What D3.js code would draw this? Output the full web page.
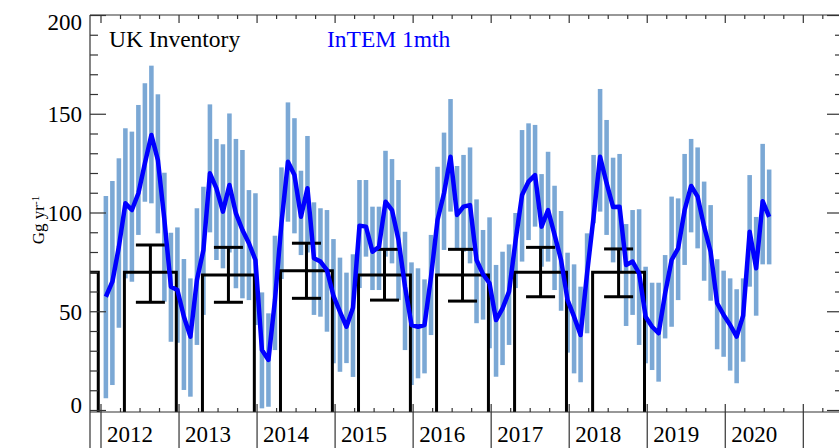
<!DOCTYPE html>
<html>
<head>
<meta charset="utf-8">
<script src="https://cdn.jsdelivr.net/npm/d3@7"></script>
<style>
body { margin: 0; background: #fff; }
text { font-family: "Liberation Serif", "Times New Roman", serif; }
</style>
</head>
<body>
<script>
// InTEM monthly estimates, Jan 2012 .. Jul 2020 (Gg/yr)
var startYear = 2012;
var intemMean = [
	57.6, 65.2, 82.9, 104.9, 101.5, 110, 125.2, 139.5, 126.8, 96.5, 62.7, 61,
	47.5, 37.4, 66.1, 81.3, 120.1, 112.5, 100.7, 114.2, 99.8, 91.4, 84.7, 76.2,
	30.6, 25.6, 55.9, 94.8, 126, 119.2, 98.1, 112.5, 77.1, 75.4, 71.1, 58,
	50, 42.4, 52, 93.6, 93.1, 80.4, 82.9, 105.7, 101.5, 86.3, 62.7, 43.3,
	42.4, 43.3, 67.7, 96.5, 110, 128.5, 99, 103.2, 104, 76.2, 69, 64.4,
	45.8, 51.7, 60.2, 86, 109.1, 115.9, 119.2, 93.1, 101.5, 88.9, 76.2, 55.9,
	47.5, 38.2, 69.5, 98.1, 128.5, 115.1, 103, 103.2, 73.7, 75.4, 69.5, 47.5,
	42.4, 39.1, 59.3, 76.2, 82.1, 101.5, 113.7, 108.3, 93.1, 80.4, 54.3, 48.4,
	43.3, 37.4, 48, 90.5, 72, 106, 98
];
var intemLow = [
	6.2, 12.9, 41.9, 66.9, 65.2, 88.9, 105.7, 104.9, 89.7, 55.1, 34.8, 34.3,
	10.4, 7, 33.2, 48.4, 90.2, 76.2, 72, 80, 61.9, 56.8, 55.9, 43.3,
	1.1, 1.9, 30.6, 66.6, 95.6, 89.7, 78.7, 80, 48.4, 47.5, 39.9, 23.9,
	19.6, 24, 17, 62, 77.9, 61, 61, 77.9, 74.5, 55.9, 30.6, 12.9,
	16.3, 18.8, 38.2, 68.6, 81.3, 100.7, 82.1, 80.4, 74.5, 44.2, 46, 31.5,
	17.1, 23, 33.2, 62, 75.4, 86.3, 93.1, 72.8, 75.4, 61, 50.5, 29.3,
	18.8, 14.3, 39.1, 94.8, 100.7, 88.9, 75, 70, 42.8, 48.4, 33.2, 23.9,
	20.5, 14.6, 36.5, 42.4, 55.9, 73.7, 90.2, 82.1, 65.7, 55.6, 31, 27.2,
	20.2, 13.8, 24.7, 62.7, 48, 74, 74
];
var intemHigh = [
	108.6, 116.2, 127.7, 142.9, 141.2, 154.7, 165.7, 174.6, 160.1, 120.4, 90, 92.7,
	76.7, 66.9, 102.4, 113.3, 155, 137.5, 134.8, 150.4, 137.5, 131.9, 111.6, 110,
	59.8, 49.2, 88.5, 123.1, 156, 148, 121.4, 139, 105.4, 102.4, 101.5, 86.8,
	77.4, 69.8, 79.1, 116.7, 116.7, 103.2, 103.2, 131.5, 127.3, 116.7, 90.5, 75,
	72, 66.4, 88.9, 123.4, 140.7, 157.7, 123.8, 129.4, 133.2, 106.9, 91.4, 97.8,
	73.7, 80.4, 84.1, 100, 142, 145.4, 144.6, 119.7, 131, 113.8, 101, 79.9,
	74, 62.7, 89.7, 129.4, 162.8, 147.1, 128, 129.9, 94.4, 101.5, 101.9, 72.8,
	64.7, 64.7, 78.7, 108.3, 107.4, 129.9, 137.5, 133.2, 115.9, 104, 76.6, 70.8,
	66.9, 61.4, 66.9, 119.2, 98, 135, 122
];

// UK inventory, annual value and uncertainty range
var invYears = [2011, 2012, 2013, 2014, 2015, 2016, 2017, 2018];
var invValue = [70, 70, 68.6, 70.8, 68.6, 68.6, 70, 70];
var invLow   = [55, 54.8, 54.8, 56.8, 55.9, 55.4, 57.6, 57.6];
var invHigh  = [84, 83.8, 82.6, 84.7, 81.6, 81.6, 82.6, 81.8];

var yTicks = [0, 50, 100, 150, 200];
var yearLabels = ["2012", "2013", "2014", "2015", "2016", "2017", "2018", "2019", "2020"];

var width = 839, height = 448;
var pLeft = 90, pRight = 843, pTop = 15, pBottom = 412;

var x = d3.scaleLinear().domain([2012, 2021]).range([101, 803.3]);
var y = d3.scaleLinear().domain([0, 200]).range([410.5, 15.5]);

var svg = d3.select("body").append("svg")
	.attr("width", width)
	.attr("height", height);

svg.append("defs").append("clipPath")
	.attr("id", "plotclip")
	.append("rect")
	.attr("x", pLeft).attr("y", pTop)
	.attr("width", pRight - pLeft).attr("height", pBottom - pTop);

var plot = svg.append("g").attr("clip-path", "url(#plotclip)");

// month positions
var months = intemMean.map(function(v, i) {
	return { t: startYear + (i + 0.75) / 12, mean: v, lo: intemLow[i], hi: intemHigh[i] };
});
var barW = (x(2013) - x(2012)) / 12 * 0.7;

// uncertainty bars
plot.selectAll("rect.unc")
	.data(months)
	.enter()
	.append("rect")
	.attr("class", "unc")
	.attr("x", function(d) { return x(d.t) - barW / 2; })
	.attr("width", barW)
	.attr("y", function(d) { return y(d.hi); })
	.attr("height", function(d) { return y(d.lo) - y(d.hi); })
	.style("fill", "#7ba8d5");

// inventory boxes
var inv = invYears.map(function(yr, i) {
	return { yr: yr, v: invValue[i], lo: invLow[i], hi: invHigh[i] };
});

plot.selectAll("path.inv")
	.data(inv)
	.enter()
	.append("path")
	.attr("class", "inv")
	.attr("d", function(d) {
		var x0 = x(d.yr + 0.3), x1 = x(d.yr + 0.965);
		return "M" + x0 + "," + pBottom + "V" + y(d.v) + "H" + x1 + "V" + pBottom;
	})
	.style("fill", "none")
	.style("stroke", "#000")
	.style("stroke-width", 3);

// inventory error bars
var capHalf = 0.186;
var eb = plot.selectAll("g.eb")
	.data(inv)
	.enter()
	.append("g")
	.attr("class", "eb")
	.style("stroke", "#000")
	.style("stroke-width", 3);

eb.append("line")
	.attr("x1", function(d) { return x(d.yr + 0.633); })
	.attr("x2", function(d) { return x(d.yr + 0.633); })
	.attr("y1", function(d) { return y(d.lo); })
	.attr("y2", function(d) { return y(d.hi); });
eb.append("line")
	.attr("x1", function(d) { return x(d.yr + 0.633 - capHalf); })
	.attr("x2", function(d) { return x(d.yr + 0.633 + capHalf); })
	.attr("y1", function(d) { return y(d.lo); })
	.attr("y2", function(d) { return y(d.lo); });
eb.append("line")
	.attr("x1", function(d) { return x(d.yr + 0.633 - capHalf); })
	.attr("x2", function(d) { return x(d.yr + 0.633 + capHalf); })
	.attr("y1", function(d) { return y(d.hi); })
	.attr("y2", function(d) { return y(d.hi); });

// InTEM line
var line = d3.line()
	.x(function(d) { return x(d.t); })
	.y(function(d) { return y(d.mean); });

plot.append("path")
	.datum(months)
	.attr("d", line)
	.style("fill", "none")
	.style("stroke", "#0000ff")
	.style("stroke-width", 4.5)
	.style("stroke-linejoin", "round");

// frame
var axisColor = "#333";
var frame = svg.append("g").style("stroke", axisColor).style("stroke-width", 1.2);
frame.append("line").attr("x1", pLeft).attr("x2", pLeft).attr("y1", pTop).attr("y2", height);
frame.append("line").attr("x1", pLeft).attr("x2", pRight).attr("y1", pTop).attr("y2", pTop);
frame.append("line").attr("x1", pLeft).attr("x2", pRight).attr("y1", pBottom).attr("y2", pBottom);
frame.append("line").attr("x1", pRight).attr("x2", pRight).attr("y1", pTop).attr("y2", pBottom);

// y ticks, left and right
var yt = d3.range(0, 201, 10);
frame.selectAll("line.yl")
	.data(yt)
	.enter()
	.append("line")
	.attr("x1", pLeft)
	.attr("x2", function(d) { return pLeft + (d % 50 === 0 ? 16 : 8); })
	.attr("y1", function(d) { return y(d); })
	.attr("y2", function(d) { return y(d); });
frame.selectAll("line.yr")
	.data(yt)
	.enter()
	.append("line")
	.attr("x1", pRight)
	.attr("x2", function(d) { return pRight - (d % 50 === 0 ? 16 : 8); })
	.attr("y1", function(d) { return y(d); })
	.attr("y2", function(d) { return y(d); });

// x ticks every quarter, top and bottom
var xt = d3.range(2012, 2021.6, 0.25).filter(function(t) { return x(t) < pRight; });
frame.selectAll("line.xt")
	.data(xt)
	.enter()
	.append("line")
	.attr("x1", function(d) { return x(d); })
	.attr("x2", function(d) { return x(d); })
	.attr("y1", pTop)
	.attr("y2", function(d) { return pTop + (d % 1 === 0 ? 8 : 4); });
frame.selectAll("line.xb")
	.data(xt)
	.enter()
	.append("line")
	.attr("x1", function(d) { return x(d); })
	.attr("x2", function(d) { return x(d); })
	.attr("y1", function(d) { return d % 1 === 0 ? height : pBottom - 4; })
	.attr("y2", function(d) { return d % 1 === 0 ? pBottom - 8 : pBottom; });

// y labels
svg.selectAll("text.ylab")
	.data(yTicks)
	.enter()
	.append("text")
	.attr("class", "ylab")
	.attr("x", 82)
	.attr("y", function(d) { return Math.min(Math.max(y(d), pTop + 7), pBottom - 7); })
	.attr("dy", "0.35em")
	.attr("text-anchor", "end")
	.style("font-size", "23px")
	.text(function(d) { return d; });

// year labels
svg.selectAll("text.year")
	.data(yearLabels)
	.enter()
	.append("text")
	.attr("class", "year")
	.attr("x", function(d) { return x(+d) + 6; })
	.attr("y", 442)
	.style("font-size", "23px")
	.text(function(d) { return d; });

// y axis title
var ytitle = svg.append("text")
	.attr("transform", "translate(44,220) rotate(-90)")
	.attr("text-anchor", "middle")
	.style("font-size", "17px");
ytitle.append("tspan").text("Gg yr");
ytitle.append("tspan").attr("dy", "-0.5em").style("font-size", "11px").text("-1");

// legend
svg.append("text")
	.attr("x", 109).attr("y", 47)
	.style("font-size", "23.5px")
	.style("fill", "#000")
	.text("UK Inventory");
svg.append("text")
	.attr("x", 327).attr("y", 47)
	.style("font-size", "23.5px")
	.style("fill", "#0000ff")
	.text("InTEM 1mth");
</script>
</body>
</html>
